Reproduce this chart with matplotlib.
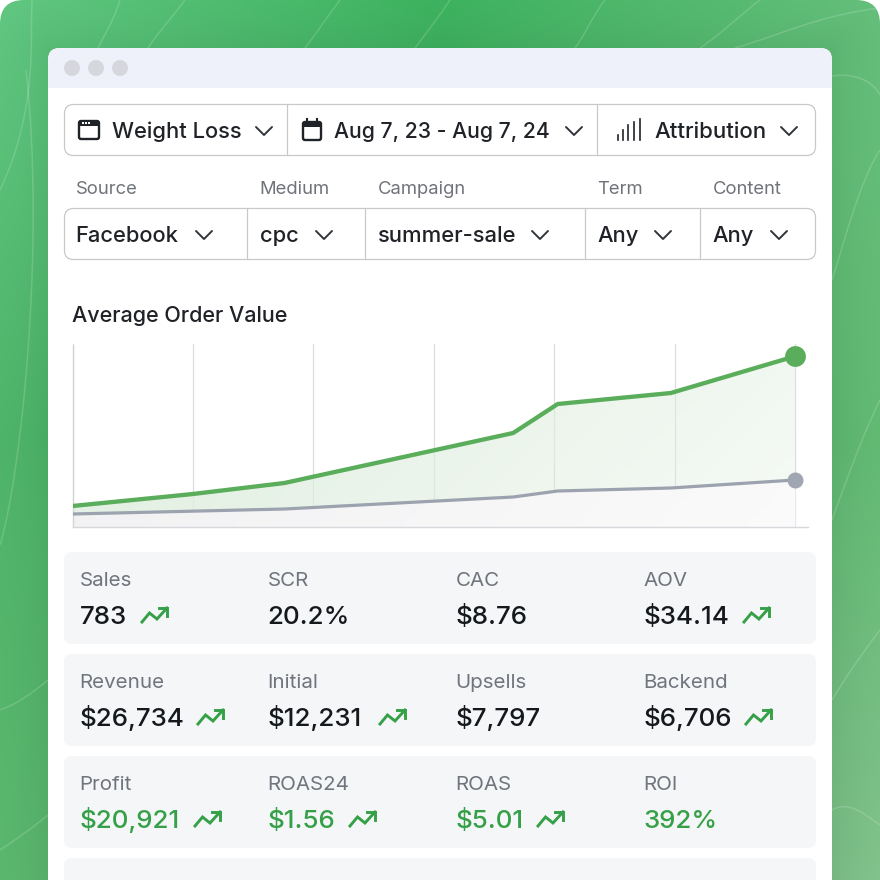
import numpy as np
import matplotlib
matplotlib.use("Agg")
import matplotlib.pyplot as plt
from matplotlib.patches import FancyBboxPatch, Rectangle, Circle, PathPatch
from matplotlib.path import Path

plt.rcParams['font.family'] = ['Inter', 'DejaVu Sans']

# chart data, x in grid periods, y in dollars
aov_x = [0, 1, 1.76, 3.66, 4.03, 4.97, 6]
aov_y = [4.2, 6.6, 8.8, 18.8, 24.6, 26.8, 34.14]
base_x = [0, 1.76, 3.66, 4.03, 4.97, 6]
base_y = [2.6, 3.6, 6.0, 7.2, 7.8, 9.4]
grid_periods = [0, 1, 2, 3, 4, 5, 6]

filter_top = ["Weight Loss", "Aug 7, 23 - Aug 7, 24", "Attribution"]
filter_labels = ["Source", "Medium", "Campaign", "Term", "Content"]
filter_values = ["Facebook", "cpc", "summer-sale", "Any", "Any"]

row_labels = [
    ["Sales", "SCR", "CAC", "AOV"],
    ["Revenue", "Initial", "Upsells", "Backend"],
    ["Profit", "ROAS24", "ROAS", "ROI"],
]
row_values = [
    ["783", "20.2%", "$8.76", "$34.14"],
    ["$26,734", "$12,231", "$7,797", "$6,706"],
    ["$20,921", "$1.56", "$5.01", "392%"],
]
row_trend = [
    [True, False, False, True],
    [True, True, False, True],
    [True, True, True, False],
]

DARK = "#1f2227"
GREEN = "#5aad5a"
TREND = "#35a047"


def hex_rgb(c):
    return np.array(matplotlib.colors.to_rgb(c))


def rounded(ax, x0, y0, x1, y1, r, **kw):
    p = FancyBboxPatch((x0 + r, y0 + r), x1 - x0 - 2 * r, y1 - y0 - 2 * r,
                       boxstyle=f"round,pad={r},rounding_size={r}", **kw)
    ax.add_patch(p)
    return p


def chevron(ax, cx, cy):
    ax.plot([cx - 8, cx, cx + 8], [cy - 4, cy + 4, cy - 4], color="#30343a", lw=1.4,
            solid_capstyle="round", solid_joinstyle="round", zorder=5)


def trend_icon(ax, x, cy):
    ax.plot([x + 1, x + 8.5, x + 16, x + 26], [cy + 7, cy - 2, cy + 4, cy - 7], color=TREND, lw=2.1,
            solid_joinstyle="miter", zorder=5)
    ax.plot([x + 18, x + 26, x + 26], [cy - 7, cy - 7, cy + 1], color=TREND, lw=2.1,
            solid_joinstyle="miter", zorder=5)


fig = plt.figure(figsize=(8.8, 8.8), dpi=100)
ax = fig.add_axes([0, 0, 1, 1])
ax.set_xlim(0, 880)
ax.set_ylim(880, 0)
ax.axis("off")

# green page background, lighter towards the corners, shadow round the window
grid = np.array([
    [hex_rgb("#62c982"), hex_rgb("#3eb460"), hex_rgb("#66c17c")],
    [hex_rgb("#4fb66a"), hex_rgb("#45ad60"), hex_rgb("#63bc74")],
    [hex_rgb("#5cb96f"), hex_rgb("#55b068"), hex_rgb("#84c48e")],
])
yy, xx = np.mgrid[0:880, 0:880] / 879.0
u, v = xx * 2, yy * 2
i, j = np.minimum(u.astype(int), 1), np.minimum(v.astype(int), 1)
fu, fv = (u - i)[..., None], (v - j)[..., None]
bg = (grid[j, i] * (1 - fu) * (1 - fv) + grid[j, i + 1] * fu * (1 - fv)
      + grid[j + 1, i] * (1 - fu) * fv + grid[j + 1, i + 1] * fu * fv)
dx = np.maximum(np.maximum(48 - xx * 879, xx * 879 - 832), 0)
dy = np.maximum(48 - yy * 879, 0)
dist = np.hypot(dx, dy)
bg = bg * (1 - 0.06 * np.exp(-dist / 30))[..., None]
im = ax.imshow(bg, extent=(0, 880, 880, 0), zorder=0, aspect="auto")
clip = rounded(ax, 0, 0, 880, 920, 24, fc="none", ec="none")
im.set_clip_path(clip)

# thin pale curves on the background
curves = [
    [(32, 0), (30, 40), (38, 110), (0, 190)],
    [(26, 70), (46, 250), (20, 480), (0, 545)],
    [(120, 0), (112, 25), (104, 35), (98, 48)],
    [(185, 0), (170, 20), (160, 30), (148, 48)],
    [(340, 0), (325, 20), (315, 35), (305, 48)],
    [(450, 0), (440, 15), (425, 35), (415, 48)],
    [(605, 0), (590, 20), (585, 35), (575, 48)],
    [(760, 0), (740, 15), (720, 35), (700, 48)],
    [(880, 8), (820, 15), (780, 35), (735, 48)],
    [(832, 76), (860, 72), (875, 85), (880, 95)],
    [(832, 280), (845, 240), (860, 180), (880, 150)],
    [(832, 520), (850, 470), (865, 430), (880, 400)],
    [(832, 700), (850, 670), (865, 650), (880, 630)],
    [(832, 810), (850, 800), (865, 815), (880, 825)],
    [(0, 710), (15, 705), (30, 695), (48, 680)],
    [(0, 850), (15, 840), (30, 830), (48, 815)],
]
for c in curves:
    path = Path(c, [Path.MOVETO, Path.CURVE4, Path.CURVE4, Path.CURVE4])
    ax.add_patch(PathPatch(path, fc="none", ec="white", alpha=0.16, lw=1.1, zorder=1))

# window
rounded(ax, 48, 48, 832, 920, 12, fc="white", ec="none", zorder=2)
bar = rounded(ax, 48, 48, 832, 120, 12, fc="#eef0fa", ec="none", zorder=2.1)
bar.set_clip_path(Rectangle((48, 48), 784, 40, transform=ax.transData))
for cx in (72, 96, 120):
    ax.add_patch(Circle((cx, 68), 8, fc="#d5d7dd", ec="none", zorder=3))

# top dropdowns
rounded(ax, 64.5, 104.5, 815.5, 155.5, 9, fc="white", ec="#c9c9c9", lw=0.9, zorder=3)
for x in (287, 597):
    ax.plot([x, x], [105, 155], color="#c9c9c9", lw=0.9, zorder=4)
for x, s, fs in zip((112, 334, 654.5), filter_top, (15.8, 15.25, 16.0)):
    ax.text(x, 138, s, fontsize=fs, color=DARK, va="baseline", ha="left", zorder=5, fontweight="medium")
for cx in (264, 574, 789):
    chevron(ax, cx, 131)

# window icon
rounded(ax, 79, 121, 99, 139, 2, fc="none", ec=DARK, lw=1.7, zorder=5)
ax.add_patch(Rectangle((79, 121), 20, 5, fc=DARK, ec="none", zorder=5))
for x in (82, 85, 88):
    ax.add_patch(Rectangle((x, 122.5), 1.8, 1.8, fc="white", ec="none", zorder=6))
# calendar icon
rounded(ax, 303, 122, 321, 140, 2, fc="none", ec=DARK, lw=1.7, zorder=5)
ax.add_patch(Rectangle((303, 122), 18, 5, fc=DARK, ec="none", zorder=5))
for x in (307, 317):
    ax.plot([x, x], [119, 124], color=DARK, lw=1.5, zorder=5)
# signal icon
for x, h in zip((618, 623, 628, 634, 640), (5, 10, 15, 18, 21)):
    ax.plot([x, x], [140, 140 - h], color=DARK, lw=1.2, zorder=5)

# utm dropdowns
for x, s in zip((75.5, 259.5, 378, 597.5, 713), filter_labels):
    ax.text(x, 194, s, fontsize=13.3, color="#70747a", va="baseline", ha="left", zorder=5)
rounded(ax, 64.5, 208.5, 815.5, 259.5, 9, fc="white", ec="#c9c9c9", lw=0.9, zorder=3)
for x in (247, 365, 585, 700):
    ax.plot([x, x], [209, 259], color="#c9c9c9", lw=0.9, zorder=4)
for x, s in zip((75.5, 260, 378, 597.5, 712.5), filter_values):
    ax.text(x, 242, s, fontsize=15.8, color=DARK, va="baseline", ha="left", zorder=5, fontweight="medium")
for cx in (204, 324, 540, 663, 779):
    chevron(ax, cx, 235)

ax.text(72, 322, "Average Order Value", fontsize=15.5, color=DARK, va="baseline", ha="left", zorder=5,
        fontweight="medium")

# stat cards
card_tops = (552, 654, 756)
col_x = (79.5, 267.5, 455.5, 643.5)
icon_x = (
    (141, None, None, 743),
    (197, 379, None, 745),
    (194, 349, 537, None),
)
for r, top in enumerate(card_tops):
    rounded(ax, 64, top, 816, top + 92, 8, fc="#f5f6f8", ec="none", zorder=3)
    for c, x in enumerate(col_x):
        ax.text(x, top + 34, row_labels[r][c], fontsize=14.8, color="#70747c",
                va="baseline", ha="left", zorder=5)
        col = "#35a047" if r == 2 else "#15181c"
        ax.text(x, top + 72, row_values[r][c], fontsize=18.7, color=col,
                va="baseline", ha="left", zorder=5, fontweight="medium")
        if row_trend[r][c]:
            trend_icon(ax, icon_x[r][c], top + 63)
rounded(ax, 64, 858, 816, 920, 8, fc="#f5f6f8", ec="none", zorder=3)

# the chart
cax = fig.add_axes([72.5 / 880, 1 - 527 / 880, 735 / 880, 182.5 / 880])
cax.patch.set_alpha(0)
x_max = 735 / 120.4
y_max = 36.5
cax.set_xlim(0, x_max)
cax.set_ylim(0, y_max)
for s in ("top", "right"):
    cax.spines[s].set_visible(False)
cax.spines["left"].set_color("#d2d4d8")
cax.spines["bottom"].set_color("#d6d8dc")
cax.spines["left"].set_linewidth(1)
cax.spines["bottom"].set_linewidth(1)
cax.set_xticks(grid_periods)
cax.set_yticks([])
cax.tick_params(length=0, labelbottom=False)
cax.grid(axis="x", color="#dcdde0", lw=0.9)
cax.set_axisbelow(True)

# fills fade from upper left to lower right
gy, gx = np.mgrid[0:1:60j, 0:1:120j]
fade = np.clip(gx * 0.8 + gy * 0.2, 0, 1)


def gradient_fill(x, y, left, right, z):
    band = np.zeros(fade.shape + (4,))
    band[..., :3] = hex_rgb(left)
    band[..., 3] = 1 - fade * (1 - right)
    img = cax.imshow(band, extent=(0, 6, 0, y_max), origin="upper", aspect="auto", zorder=z)
    poly = cax.fill_between(x, 0, y, color="none", zorder=z)
    img.set_clip_path(poly.get_paths()[0], transform=cax.transData)
    cax.set_xlim(0, x_max)
    cax.set_ylim(0, y_max)


gradient_fill(aov_x, aov_y, "#dfeedf", 0.3, 1)
cax.fill_between(base_x, 0, base_y, color="white", zorder=1.5, lw=0)
gradient_fill(base_x, base_y, "#f0f0f2", 0.3, 1.6)

cax.plot(base_x, base_y, color="#9ca3af", lw=2.3, zorder=3, solid_joinstyle="round")
cax.plot(aov_x, aov_y, color=GREEN, lw=3.1, zorder=4, solid_joinstyle="round")
cax.plot(base_x[-1], base_y[-1], "o", ms=11.5, color="#a0a6b2", mec="none", zorder=5, clip_on=False)
cax.plot(aov_x[-1], aov_y[-1], "o", ms=15, color=GREEN, mec="none", zorder=5, clip_on=False)

fig.savefig("out.png", dpi=100)
